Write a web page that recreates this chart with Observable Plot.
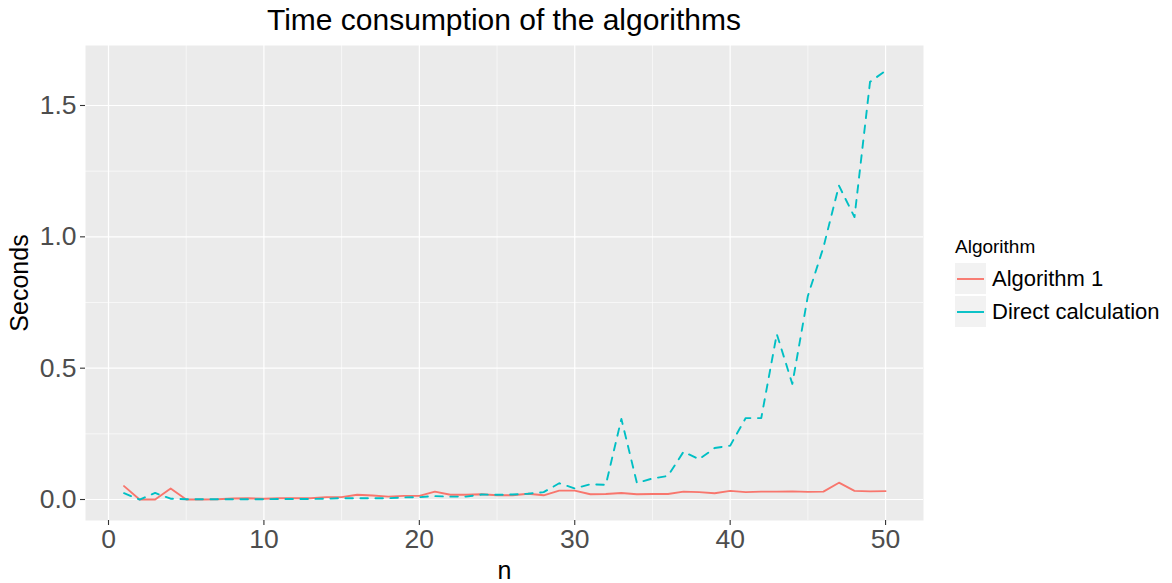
<!DOCTYPE html>
<html>
<head>
<meta charset="utf-8">
<script src="https://cdn.jsdelivr.net/npm/d3@7"></script>
<script src="https://cdn.jsdelivr.net/npm/@observablehq/plot@0.6"></script>
<style>
  body { margin: 0; background: #fff; font-family: "Liberation Sans", Arial, sans-serif; }
  #wrap { position: relative; width: 1172px; height: 583px; overflow: hidden; }
  #title { position: absolute; top: 2px; left: 0; width: 1008px; text-align: center; font-size: 30px; line-height: 36px; color: #000; }
  #legend { position: absolute; left: 955px; top: 232px; color: #000; }
  #legend .lt { font-size: 19px; height: 30px; line-height: 30px; }
  #legend .row { display: flex; align-items: center; height: 33px; }
  #legend .key { width: 31px; height: 31px; background: #F2F2F2; margin-right: 6px; display: flex; align-items: center; justify-content: center; }
  #legend .lab { font-size: 22px; }
  #chart { position: absolute; left: 0; top: 0; }
</style>
</head>
<body>
<div id="wrap">
  <div id="chart"></div>
  <div id="title"></div>
  <div id="legend"></div>
</div>
<script>
const titleText = "Time consumption of the algorithms";
const xLabel = "n";
const yLabel = "Seconds";
const legendTitle = "Algorithm";
const series = ["Algorithm 1", "Direct calculation"];
const colors = ["#F8766D", "#00BFC4"];
const n = [1,2,3,4,5,6,7,8,9,10,11,12,13,14,15,16,17,18,19,20,21,22,23,24,25,26,27,28,29,30,31,32,33,34,35,36,37,38,39,40,41,42,43,44,45,46,47,48,49,50];
const algorithm1 = [0.051,0.0,0.0,0.042,0.0,0.0,0.001,0.004,0.005,0.003,0.005,0.005,0.005,0.009,0.009,0.018,0.015,0.011,0.014,0.014,0.03,0.018,0.018,0.02,0.016,0.016,0.022,0.016,0.034,0.034,0.02,0.021,0.025,0.02,0.021,0.021,0.03,0.028,0.024,0.033,0.028,0.03,0.03,0.031,0.029,0.03,0.064,0.033,0.031,0.032];
const direct = [0.024,0.0,0.025,0.003,0.001,0.001,0.001,0.001,0.001,0.001,0.002,0.002,0.002,0.003,0.005,0.005,0.005,0.005,0.008,0.009,0.013,0.011,0.011,0.019,0.018,0.019,0.022,0.028,0.062,0.042,0.058,0.056,0.307,0.063,0.08,0.09,0.182,0.153,0.196,0.205,0.31,0.31,0.63,0.44,0.775,0.96,1.195,1.075,1.59,1.632];
const xTicks = [0,10,20,30,40,50];
const xMinor = [5,15,25,35,45];
const yTicks = [0,0.5,1.0,1.5];
const yMinor = [0.25,0.75,1.25];

const rows1 = n.map((v,i) => ({n: v, sec: algorithm1[i], alg: series[0]}));
const rows2 = n.map((v,i) => ({n: v, sec: direct[i], alg: series[1]}));

const chart = Plot.plot({
  width: 1172,
  height: 583,
  marginLeft: 85,
  marginRight: 249,
  marginTop: 45,
  marginBottom: 63,
  style: { fontFamily: '"Liberation Sans", Arial, sans-serif', background: "transparent", overflow: "visible" },
  x: { domain: [-1.48, 52.44] },
  y: { domain: [-0.0799, 1.7284] },
  color: { domain: series, range: colors },
  marks: [
    Plot.frame({ fill: "#EBEBEB", stroke: null }),
    Plot.ruleX(xMinor, { stroke: "#fff", strokeWidth: 0.6 }),
    Plot.ruleY(yMinor, { stroke: "#fff", strokeWidth: 0.6 }),
    Plot.ruleX(xTicks, { stroke: "#fff", strokeWidth: 1.2 }),
    Plot.ruleY(yTicks, { stroke: "#fff", strokeWidth: 1.2 }),
    Plot.line(rows1, { x: "n", y: "sec", stroke: "alg", strokeWidth: 1.9 }),
    Plot.line(rows2, { x: "n", y: "sec", stroke: "alg", strokeWidth: 1.9, strokeDasharray: "7.5,7.5" }),
    Plot.axisX({ ticks: xTicks, tickSize: 5, tickPadding: 4, fontSize: 26.5, stroke: "#333333", fill: "#4D4D4D", strokeWidth: 1.1, label: null }),
    Plot.axisY({ ticks: yTicks, tickFormat: d3.format(".1f"), tickSize: 5, tickPadding: 4, fontSize: 26.5, stroke: "#333333", fill: "#4D4D4D", strokeWidth: 1.1, label: null }),
    Plot.text([xLabel], { frameAnchor: "bottom", dy: 50, lineAnchor: "middle", textAnchor: "middle", fontSize: 25, fill: "#000" }),
    Plot.text([yLabel], { frameAnchor: "left", dx: -66, rotate: -90, lineAnchor: "middle", textAnchor: "middle", fontSize: 25, fill: "#000" })
  ]
});
document.getElementById("chart").appendChild(chart);
document.getElementById("title").textContent = titleText;

const leg = document.getElementById("legend");
const lt = document.createElement("div");
lt.className = "lt"; lt.textContent = legendTitle;
leg.appendChild(lt);
series.forEach((s, i) => {
  const row = document.createElement("div"); row.className = "row";
  const key = document.createElement("div"); key.className = "key";
  key.innerHTML = `<svg width="27" height="4"><line x1="0" y1="2" x2="27" y2="2" stroke="${colors[i]}" stroke-width="1.9"/></svg>`;
  const lab = document.createElement("div"); lab.className = "lab"; lab.textContent = s;
  row.appendChild(key); row.appendChild(lab);
  leg.appendChild(row);
});
</script>
</body>
</html>
